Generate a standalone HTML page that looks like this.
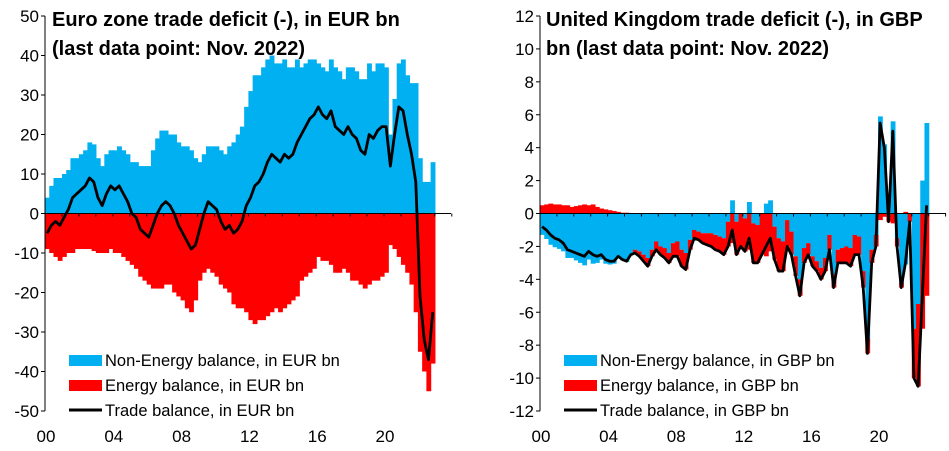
<!DOCTYPE html>
<html><head><meta charset="utf-8">
<style>
body{margin:0;background:#fff;}
svg{display:block;font-family:"Liberation Sans",Arial,sans-serif;}
</style></head>
<body>
<svg id="c" width="949" height="451" viewBox="0 0 949 451">
<rect width="949" height="451" fill="#fff"/>
</svg>
<script>
// quarterly data 2000Q1..2022Q4 (last quarter = Oct-Nov 2022)
const xYears = ["00","04","08","12","16","20"];
const euYTicks = [50,40,30,20,10,0,-10,-20,-30,-40,-50];
const ukYTicks = [12,10,8,6,4,2,0,-2,-4,-6,-8,-10,-12];
const euNonEnergy = [4,7,9,9, 10,11,14,14, 15,16,18,17.5, 14,12,15,16, 16,17,16,15, 13,13,12,12, 12,16,19,21, 21,20,20,18, 17,17,16,14, 13,15,17,17, 17,16,15,17, 18,20,22,27, 31,35,35,37, 39,40,38,38, 39,37,37,39, 37,38,39,39, 38,37,36,39, 37,36,34,37, 37,36,34,34, 38,36,38,38, 37,20,29,38, 39,35,33,33, 14,8,8,13];
const euEnergy = [-9,-10,-11,-12, -11,-10,-10,-9, -9,-9,-9,-9.5, -10,-10,-10,-9, -10,-10,-11,-12, -13,-14,-16,-17, -18,-19,-19,-19, -18,-18,-20,-21, -22,-24,-25,-22, -17,-15,-14,-15, -16,-18,-19,-20, -23,-24,-24,-25, -27,-28,-27,-27, -26,-25,-24,-25, -24,-23,-22,-21, -17,-16,-15,-14, -11,-12,-12,-13, -15,-15,-14,-15, -17,-17,-18,-19, -18,-17,-17,-16, -15,-8,-9,-11, -13,-15,-18,-25, -35,-40,-45,-38];
const ukNonEnergy = [-1.3,-1.55,-1.9,-2.05, -2.15,-2.3,-2.7,-2.7, -2.85,-3.0,-3.15,-2.8, -3.05,-3.0,-2.8,-3.05, -3.1,-3.05,-2.7,-2.85, -2.95,-2.5,-2.2,-2.3, -2.5,-2.7,-2.2,-1.7, -2.0,-2.1,-2.4,-1.8, -1.7,-2.2,-2.4,-1.6, -1.0,-1.1,-1.2,-1.2, -1.2,-1.3,-1.4,-1.5, -0.5,0.8,-0.5,0, -0.3,0.7,-0.6,-0.7, 0,0.6,0.8,-0.8, -1.5,-1.7,-0.4,-1.1, -2.6,-4.0,-2.1,-1.8, -2.6,-2.9,-3.3,-2.7, -1.3,-3.7,-2.2,-2.1, -2.0,-2.1,-1.3,-1.4, -3.5,-7.6,-2.2,-1.3, 5.9,4.2,-0.1,5.6, -1.5,-4.2,-3.1,0, -7,-5.5,2,5.5];
const ukEnergy = [0.5,0.55,0.6,0.55, 0.55,0.5,0.5,0.4, 0.45,0.5,0.55,0.5, 0.55,0.4,0.3,0.25, 0.2,0.15,0.1,0.05, 0.05,0,-0.2,-0.3, -0.4,-0.5,-0.4,-0.5, -0.5,-0.6,-0.6,-0.8, -0.9,-1.0,-1.0,-0.6, -0.5,-0.5,-0.6,-0.7, -0.8,-0.9,-0.9,-1.0, -1.5,-1.8,-2.0,-2.0, -2.0,-2.2,-2.4,-2.3, -2.5,-2.6,-2.3,-2.0, -2.0,-1.8,-1.6,-1.4, -1.2,-1.0,-0.9,-0.7, -0.6,-0.6,-0.7,-0.8, -0.9,-0.8,-0.8,-0.9, -1.0,-1.1,-1.2,-1.1, -1.0,-0.9,-0.8,-0.7, -0.4,-0.2,-0.4,-0.6, -0.5,-0.3,0.1,-0.5, -3,-5,-7,-5];

const NS="http://www.w3.org/2000/svg";
const svg=document.getElementById('c');
function mk(tag,attrs,parent){const e=document.createElementNS(NS,tag);for(const k in attrs)e.setAttribute(k,attrs[k]);(parent||svg).appendChild(e);return e;}

function panel(cfg){
  const g=mk('g',{});
  
  
  const yMax=cfg.ticks[0], yMin=cfg.ticks[cfg.ticks.length-1];
  const y=v=>cfg.top+(yMax-v)/(yMax-yMin)*(cfg.bottom-cfg.top);
  const x=t=>cfg.x0+t*cfg.pxYear;
  const n=cfg.ne.length, bw=0.25*cfg.pxYear+0.6;
  const trade=[];
  for(let i=0;i<n;i++){
    const xl=x(i*0.25);
    let pos=0,neg=0;
    const parts=[[cfg.ne[i],'#00b0f0','non-energy-bar'],[cfg.en[i],'#ff0000','energy-bar']];
    for(const [v,col,nm] of parts){
      let a,b;
      if(v>=0){a=pos;b=pos+v;pos=b;}else{a=neg;b=neg+v;neg=b;}
      const r=mk('rect',{x:xl.toFixed(2),y:Math.min(y(a),y(b)).toFixed(2),width:bw.toFixed(2),height:Math.abs(y(a)-y(b)).toFixed(2),fill:col},g);
      
      
    }
    trade.push(cfg.ne[i]+cfg.en[i]);
  }
  const ya=mk('line',{x1:cfg.x0,y1:cfg.top,x2:cfg.x0,y2:cfg.bottom,stroke:'#000','stroke-width':1},g);
  
  const xa=mk('line',{x1:cfg.x0,y1:y(0),x2:cfg.axEnd,y2:y(0),stroke:'#000','stroke-width':1},g);
  
  for(let k=0;k<=24;k++){mk('line',{x1:x(k),y1:y(0),x2:x(k),y2:y(0)+3,stroke:'#000','stroke-width':1},g);}
  cfg.ticks.forEach(t=>{
    mk('line',{x1:cfg.x0-4,y1:y(t),x2:cfg.x0,y2:y(t),stroke:'#000'},g);
    const tx=mk('text',{x:cfg.x0-6,y:y(t)+6,'text-anchor':'end','font-size':17,fill:'#000'},g);
    tx.textContent=t;
    
  });
  xYears.forEach((lab,k)=>{
    const tx=mk('text',{x:x(k*4)+1,y:442,'text-anchor':'middle','font-size':17,fill:'#000'},g);
    tx.textContent=lab;
    
  });
  const pts=trade.map((v,i)=>x(i*0.25+0.125).toFixed(2)+','+y(v).toFixed(2)).join(' ');
  const pl=mk('polyline',{points:pts,fill:'none',stroke:'#000','stroke-width':2.8,'stroke-linejoin':'round'},g);
  
  cfg.title.forEach((t,i)=>{
    const tx=mk('text',{x:cfg.tx,y:26+i*29,'font-size':20,'font-weight':'bold',fill:'#000'},g);
    tx.textContent=t;
    
  });
  const lx=cfg.lx;
  const l1=mk('rect',{x:lx,y:355,width:33,height:11,fill:'#00b0f0'},g);
  
  const l2=mk('rect',{x:lx,y:380,width:33,height:11,fill:'#ff0000'},g);
  
  const l3=mk('line',{x1:lx,y1:410,x2:lx+33,y2:410,stroke:'#000','stroke-width':3},g);
  
  const labs=['Non-Energy balance, in '+cfg.cur+' bn','Energy balance, in '+cfg.cur+' bn','Trade balance, in '+cfg.cur+' bn'];
  [366,391,416].forEach((yy,i)=>{
    const tx=mk('text',{x:lx+36,y:yy,'font-size':16.5,fill:'#000'},g);
    tx.textContent=labs[i];
    
  });
}

panel({name:'euro-zone-panel',x0:45,pxYear:16.95,top:16,bottom:411,axEnd:451,ticks:euYTicks,ne:euNonEnergy,en:euEnergy,
  title:['Euro zone trade deficit (-), in EUR bn','(last data point: Nov. 2022)'],tx:52,lx:69,cur:'EUR'});
panel({name:'uk-panel',x0:540,pxYear:16.9,top:16,bottom:411,axEnd:946,ticks:ukYTicks,ne:ukNonEnergy,en:ukEnergy,
  title:['United Kingdom trade deficit (-), in GBP','bn (last data point: Nov. 2022)'],tx:546,lx:564,cur:'GBP'});
</script>
</body></html>
